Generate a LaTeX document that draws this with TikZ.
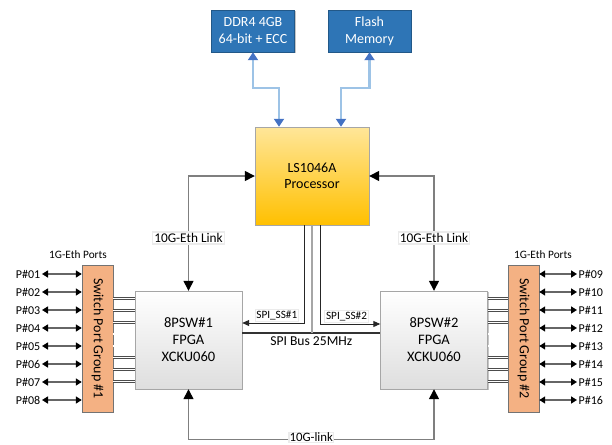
\documentclass[tikz,border=0pt]{standalone}
\usepackage{fontspec}
\setmainfont{Carlito}
\usetikzlibrary{arrows.meta,shadows}
\definecolor{memblue}{HTML}{2E75B6}
\definecolor{memline}{HTML}{9DC3E6}
\definecolor{memtip}{HTML}{4472C4}
\definecolor{cputop}{HTML}{FFE699}
\definecolor{cpubot}{HTML}{FFC000}
\definecolor{grporange}{HTML}{F4B183}
\definecolor{linkgray}{HTML}{7F7F7F}
\tikzset{
  boxshadow/.style={drop shadow={shadow xshift=1.3pt,shadow yshift=-1.3pt,fill=black!45,opacity=0.5}},
  membox/.style={draw=memblue!75!black, fill=memblue, text=white, minimum width=83pt,
    minimum height=42pt, align=center, font=\fontsize{14}{17}\selectfont, boxshadow},
  cpubox/.style={draw=black!35, top color=cputop, bottom color=cpubot, minimum width=114pt,
    minimum height=98pt, align=center, font=\fontsize{14}{16.5}\selectfont, boxshadow},
  fpgabox/.style={draw=black!35, top color=white, bottom color=black!13, minimum width=107pt,
    minimum height=98pt, align=center, font=\fontsize{14.5}{17}\selectfont, boxshadow},
  grpbox/.style={draw=black!55, fill=grporange, minimum width=31pt, minimum height=147pt},
  grptext/.style={rotate=-90, font=\fontsize{14}{16}\selectfont},
  memlink/.style={draw=memline, line width=2.4pt,
    {Triangle[length=8pt,width=10pt,color=memtip]}-{Triangle[length=8pt,width=10pt,color=memtip]}},
  tenglink/.style={draw=linkgray, line width=1.4pt,
    {Triangle[length=10pt,width=10pt,color=black]}-{Triangle[length=10pt,width=10pt,color=black]}},
  linklbl/.style={fill=white, draw=black!8, inner sep=1.5pt, font=\fontsize{13.3}{15}\selectfont},
  spiline/.style={draw=black!85, line width=0.9pt, -{Triangle[length=7pt,width=6pt]}},
  spibus/.style={draw=black!80, line width=1.3pt},
  spilbl/.style={fill=white, draw=black!8, inner sep=1.2pt, font=\fontsize{11.2}{13}\selectfont},
  portbus/.style={draw=black!70, double=white, double distance=1.4pt, line width=0.6pt},
  portarrow/.style={draw=black!60, line width=2pt,
    {Triangle[length=6pt,width=7pt,color=black]}-{Triangle[length=6pt,width=7pt,color=black]}},
  portlbl/.style={inner sep=1.5pt, font=\fontsize{12}{14}\selectfont},
  portshead/.style={font=\fontsize{11.3}{13}\selectfont}
}
\begin{document}
\begin{tikzpicture}[x=1pt,y=-1pt]
    \useasboundingbox (0,0) rectangle (612,444);
    %% Memories
    \node[membox] (ddr) at (253,31) {DDR4 4GB\\64-bit + ECC};
    \node[membox] (flash) at (369.5,31) {Flash\\Memory};
    %% Processor
    \node[cpubox] (cpu) at (312,176) {LS1046A\\Processor};
    %% FPGAs
    \node[fpgabox] (fpgaA) at (188.5,340) {8PSW\#1\\FPGA\\XCKU060};
    \node[fpgabox] (fpgaB) at (434,340) {8PSW\#2\\FPGA\\XCKU060};
    %% Switch port groups
    \node[grpbox] (grpA) at (97.5,338.5) {};
    \node[grptext] (grpAtxt) at (grpA.center) {Switch Port Group \#1};
    \node[grpbox] (grpB) at (523.5,338.5) {};
    \node[grptext] (grpBtxt) at (grpB.center) {Switch Port Group \#2};
    \node[portshead] (portsA) at (78,255) {1G-Eth Ports};
    \node[portshead] (portsB) at (543,255) {1G-Eth Ports};
    %% Memory links
    \draw[memlink] (ddr.south) -- ++(0,36) -| ([xshift=-33pt]cpu.north);
    \draw[memlink] (flash.south) -- ++(0,36) -| ([xshift=29pt]cpu.north);
    %% 10G links
    \draw[tenglink] (cpu.west) -| (fpgaA.north)
        node[pos=0.77,linklbl] {10G-Eth Link};
    \draw[tenglink] (cpu.east) -| (fpgaB.north)
        node[pos=0.77,linklbl] {10G-Eth Link};
    \coordinate (lowA) at ([yshift=-50pt]fpgaA.south);
    \draw[tenglink] (fpgaA.south) -- (lowA) -| (fpgaB.south)
        node[pos=0.25,linklbl,inner sep=0.6pt,yshift=1.8pt,font=\fontsize{12.8}{14}\selectfont] {10G-link};
    %% SPI
    \coordinate (busA) at ([yshift=7pt]fpgaA.east);
    \coordinate (busB) at ([yshift=7pt]fpgaB.west);
    \draw[spiline] ([xshift=-8pt]cpu.south) |- ([yshift=17pt]fpgaA.east)
        node[pos=0.72,spilbl,anchor=south,yshift=1.5pt] {SPI\_SS\#1};
    \draw[spiline] ([xshift=8pt]cpu.south) |- ([yshift=16pt]fpgaB.west)
        node[pos=0.72,spilbl,anchor=south,yshift=1.5pt] {SPI\_SS\#2};
    \draw[spibus] (busA) -- (busB)
        node[midway,below,font=\fontsize{13.6}{15}\selectfont] {SPI Bus 25MHz};
    \draw[draw=black!85, double=black!35, double distance=1.2pt, line width=0.6pt]
        (cpu.south) -- (cpu.south |- busA);
    %% Group to FPGA lanes
    \foreach \i in {0,...,7} {
        \coordinate (la\i) at ([yshift={41.3pt-11.8pt*\i}]fpgaA.west);
        \draw[portbus] (la\i) -- (la\i -| grpA.east);
        \coordinate (lb\i) at ([yshift={41.3pt-11.8pt*\i}]fpgaB.east);
        \draw[portbus] (lb\i) -- (lb\i -| grpB.west);
    }
    %% 1G ports
    \foreach \n [count=\k from 0] in {01,02,03,04,05,06,07,08} {
        \node[portlbl,anchor=east] (pA\n) at (42,274+18*\k) {P\#\n};
        \draw[portarrow] (pA\n.east) -- (pA\n.east -| grpA.west);
    }
    \foreach \n [count=\k from 0] in {09,10,11,12,13,14,15,16} {
        \node[portlbl,anchor=west] (pB\n) at (577,274+18*\k) {P\#\n};
        \draw[portarrow] (pB\n.west) -- (pB\n.west -| grpB.east);
    }
\end{tikzpicture}
\end{document}
